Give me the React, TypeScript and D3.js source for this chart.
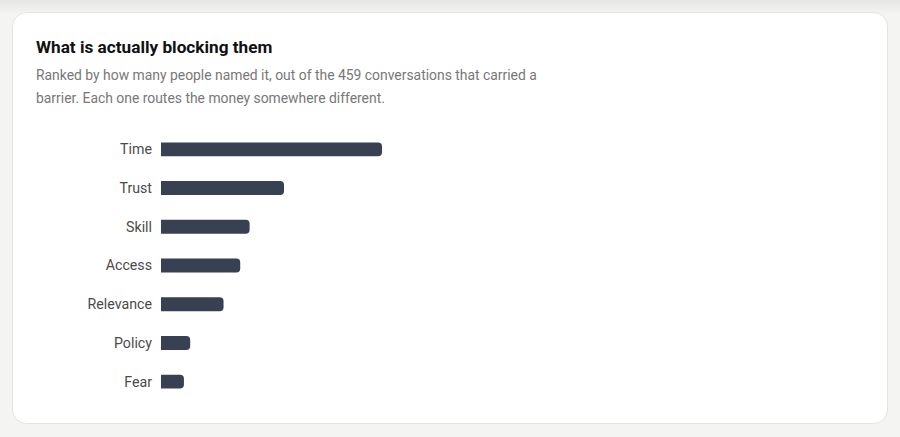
import React from "react";
import * as d3 from "d3";

const barriers = ["Time", "Trust", "Skill", "Access", "Relevance", "Policy", "Fear"];
const mentions = [212, 118, 85, 76, 60, 28, 22];

const titleText = "What is actually blocking them";
const subtitleLines = [
  "Ranked by how many people named it, out of the 459 conversations that carried a",
  "barrier. Each one routes the money somewhere different.",
];

const W = 900;
const H = 437;
const FONT = "Roboto, 'Noto Sans', sans-serif";

// bar with square left end and rounded right end
function barPath(x0: number, y0: number, w: number, h: number, r: number) {
  const rr = Math.min(r, w / 2, h / 2);
  return `M${x0},${y0}H${x0 + w - rr}A${rr},${rr} 0 0 1 ${x0 + w},${y0 + rr}V${y0 + h - rr}A${rr},${rr} 0 0 1 ${x0 + w - rr},${y0 + h}H${x0}Z`;
}

export default function App() {
  const x = d3.scaleLinear().domain([0, d3.max(mentions) ?? 1]).range([161, 382]);
  const y = d3.scaleBand<string>().domain(barriers).range([130, 401]).paddingInner(0.64).paddingOuter(0.32);
  const bh = y.bandwidth();

  return (
    <div style={{ position: "fixed", left: 0, top: 0 }}>
      <svg width={W} height={H} style={{ display: "block" }}>
        <defs>
          <linearGradient id="bg-top" x1="0" y1="0" x2="0" y2="1">
            <stop offset="0%" stopColor="#e6e6e5" />
            <stop offset="100%" stopColor="#f4f4f2" />
          </linearGradient>
        </defs>
        <rect x={0} y={0} width={W} height={H} fill="#f4f4f2" />
        <rect x={0} y={0} width={W} height={14} fill="url(#bg-top)" />
        <rect x={12.5} y={12.5} width={875} height={411} rx={14} fill="#ffffff" stroke="#e4e4de" />

        <text x={36} y={53} fontFamily={FONT} fontSize={17.2} fontWeight={700} fill="#111111">
          {titleText}
        </text>
        {subtitleLines.map((line, i) => (
          <text key={i} x={36} y={80 + i * 23} fontFamily={FONT} fontSize={13.9} fill="#787878">
            {line}
          </text>
        ))}

        {barriers.map((b, i) => {
          const yy = y(b) ?? 0;
          return (
            <g key={b}>
              <text
                x={152}
                y={yy + bh / 2}
                dy="0.35em"
                textAnchor="end"
                fontFamily={FONT}
                fontSize={14.2}
                fill="#4a4a4a"
              >
                {b}
              </text>
              <path d={barPath(x(0), yy, x(mentions[i]) - x(0), bh, 4)} fill="#374151" />
            </g>
          );
        })}
      </svg>
    </div>
  );
}
